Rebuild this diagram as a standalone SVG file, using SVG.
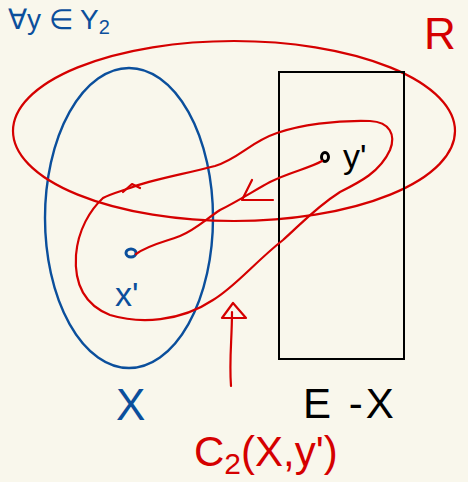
<svg xmlns="http://www.w3.org/2000/svg" width="468" height="482" viewBox="0 0 468 482">
<style>
.red{fill:none;stroke:#d50000;stroke-width:2.2;stroke-linecap:round;stroke-linejoin:round}
.blue{fill:none;stroke:#0b4f9c;stroke-width:2.4;stroke-linecap:round}
.t{font-family:"Liberation Sans",Arial,sans-serif}
</style>
<rect width="468" height="482" fill="#f9f7ec"/>
<g id="X">
<ellipse class="blue" cx="129" cy="218" rx="84" ry="150"/>
<text class="t" x="116" y="420" font-size="44" fill="#0b4f9c">X</text>
</g>
<g id="R">
<ellipse class="red" cx="234" cy="131" rx="221" ry="90"/>
<text class="t" x="424" y="49" font-size="44" fill="#d50000">R</text>
</g>
<g id="EX">
<rect x="279" y="72" width="125" height="287" fill="none" stroke="#000" stroke-width="2"/>
<text class="t" x="303" y="418" font-size="42" fill="#000" letter-spacing="3">E -X</text>
</g>
<g id="xprime">
<ellipse cx="131" cy="253" rx="5" ry="4" fill="none" stroke="#0b4f9c" stroke-width="3"/>
<text class="t" x="115" y="306" font-size="34" fill="#0b4f9c">x'</text>
</g>
<g id="yprime">
<ellipse cx="325" cy="157" rx="3.5" ry="4.5" fill="none" stroke="#000" stroke-width="3"/>
<text class="t" x="343" y="168" font-size="34" fill="#000">y'</text>
</g>
<g id="top">
<text class="t" x="8" y="29" font-size="28" fill="#0b4f9c">∀y ∈ Y<tspan font-size="20" dy="5">2</tspan></text>
</g>
<g id="C2label">
<text class="t" x="194" y="466" font-size="42" fill="#d50000">C<tspan font-size="30" dy="8">2</tspan><tspan dy="-8">(X,y')</tspan></text>
</g>
<g id="connectors">
<path class="red" d="M103,198 C90,210 78,230 76,255 C74,285 85,305 110,315 C140,324 180,322 213,300 C235,287 255,262 283,240 C300,225 315,208 340,192 C360,182 380,172 390,150 C396,135 390,122 370,121 C335,120 300,125 277,133 C250,142 240,158 215,166 C185,174 150,180 130,188 C118,192 108,195 103,198 Z"/>
<path class="red" d="M123,192 L132,184 L140,188"/>
<path class="red" d="M322,161 C310,168 290,172 270,182 C255,190 240,200 220,210 C205,220 195,230 180,236 C165,242 150,244 136,254"/>
<path class="red" d="M252,180 L242,200 L273,200"/>
<path class="red" d="M231,386 C229,360 232,340 232,312"/>
<path class="red" d="M222,318 L233,303 L246,318 Z"/>
</g>
</svg>
